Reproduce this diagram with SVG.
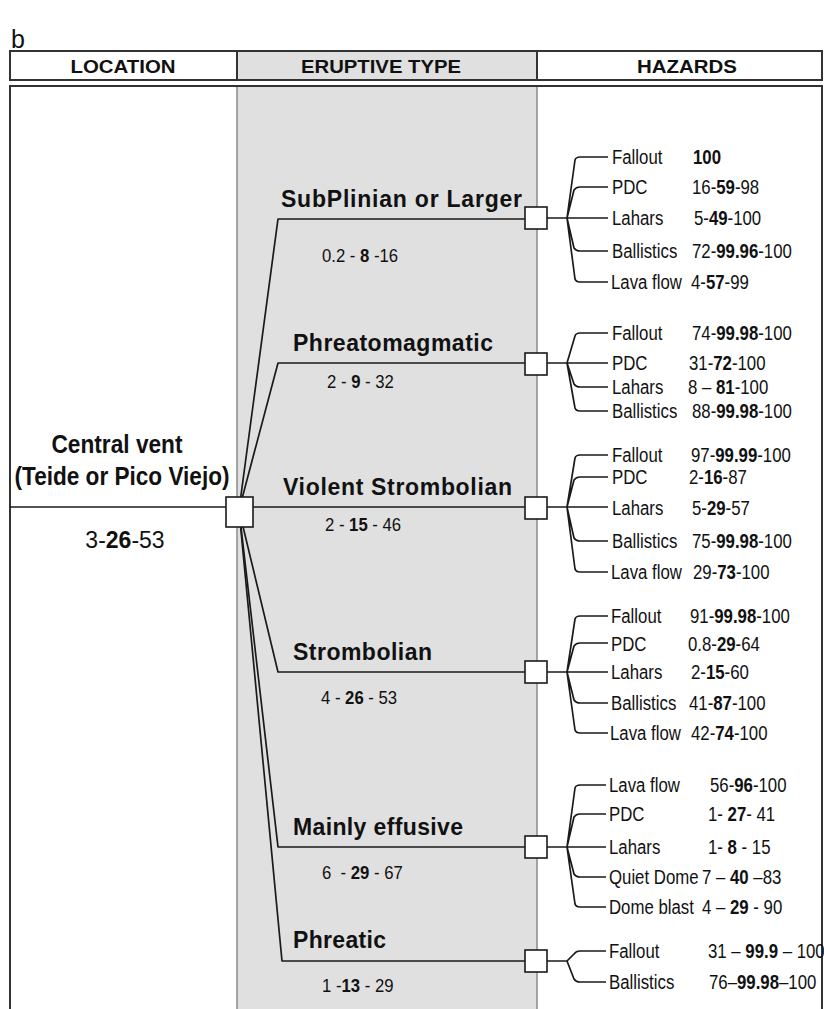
<svg xmlns="http://www.w3.org/2000/svg" width="824" height="1009" viewBox="0 0 824 1009">
<style>
text{font-family:"Liberation Sans",Arial,sans-serif;fill:#111}
.hd{font-size:19px;font-weight:bold;text-anchor:middle}
.cv{font-size:25px;font-weight:bold;text-anchor:middle}
.et{font-size:23px;font-weight:bold}
.en{font-size:19px;transform-box:fill-box;transform-origin:0 50%;transform:scaleX(0.88);white-space:pre}
.hz{font-size:21px;transform-box:fill-box;transform-origin:0 50%;transform:scaleX(0.8);white-space:pre}
.b{font-weight:bold}
.ln{fill:none;stroke:#1a1a1a;stroke-width:1.7;stroke-linejoin:round}
.bx{fill:#fff;stroke:#1a1a1a;stroke-width:1.6}
.frame{fill:none;stroke:#333;stroke-width:2}
.gray{fill:#e0e0e0;stroke:#8a8a8a;stroke-width:1.5}
</style>
<rect width="824" height="1009" fill="#fff"/>
<text x="11" y="48" style="font-size:25px">b</text>
<g id="table">
<rect class="gray" x="237" y="51" width="300" height="29"/>
<rect class="frame" x="10" y="51" width="812" height="29"/>
<line class="frame" x1="237" y1="51" x2="237" y2="80"/>
<line class="frame" x1="537" y1="51" x2="537" y2="80"/>
<rect class="gray" x="237" y="86" width="300" height="940"/>
<rect class="frame" x="10" y="86" width="812" height="940"/>
<text class="hd" x="123" y="73" textLength="105" lengthAdjust="spacingAndGlyphs">LOCATION</text>
<text class="hd" x="381" y="73" textLength="160" lengthAdjust="spacingAndGlyphs">ERUPTIVE TYPE</text>
<text class="hd" x="687" y="73" textLength="100" lengthAdjust="spacingAndGlyphs">HAZARDS</text>
</g>
<g id="connectors">
<path class="ln" d="M10,507 H525"/>
<path class="ln" d="M239,510 L278,219 H525"/>
<path class="ln" d="M239,510 L278,363 H525"/>
<path class="ln" d="M239,510 L278,672 H525"/>
<path class="ln" d="M239,510 L278,847 H525"/>
<path class="ln" d="M239,510 L282,961 H525"/>
<path class="ln" d="M547,218 H567 M567,218 L575,160 Q576,157 580,157 H608 M567,218 L574,190 Q576,187 580,187 H608 M567,218 H608 M567,218 L574,248 Q576,251 580,251 H608 M567,218 L575,279 Q576,282 580,282 H608"/>
<path class="ln" d="M547,363 H608 M567,363 L575,336 Q576,333 580,333 H608 M567,363 L574,384 Q576,387 580,387 H608 M567,363 L575,408 Q576,411 580,411 H608"/>
<path class="ln" d="M547,507 H608 M567,507 L575,458 Q576,455 580,455 H608 M567,507 L574,480 Q576,477 580,477 H608 M567,507 L574,538 Q576,541 580,541 H608 M567,507 L575,569 Q576,572 580,572 H608"/>
<path class="ln" d="M547,672 H608 M567,672 L575,619 Q576,616 580,616 H608 M567,672 L574,646 Q576,643 580,643 H608 M567,672 L574,700 Q576,703 580,703 H608 M567,672 L575,730 Q576,733 580,733 H608"/>
<path class="ln" d="M547,847 H606 M567,847 L575,788 Q576,785 580,785 H606 M567,847 L574,817 Q576,814 580,814 H606 M567,847 L574,874 Q576,877 580,877 H606 M567,847 L575,904 Q576,907 580,907 H606"/>
<path class="ln" d="M547,961 H567 L574,954 Q576,951 580,951 H606 M567,961 L574,979 Q576,982 580,982 H606"/>
</g>
<g id="central-vent">
<rect class="bx" x="226" y="497" width="27" height="30"/>
<text class="cv" x="117" y="453" textLength="131" lengthAdjust="spacingAndGlyphs">Central vent</text>
<text class="cv" x="122" y="485" textLength="215" lengthAdjust="spacingAndGlyphs">(Teide or Pico Viejo)</text>
<text x="125" y="548" style="font-size:23px;text-anchor:middle">3-<tspan class="b">26</tspan>-53</text>
</g>
<g id="subplinian">
<rect class="bx" x="525" y="207" width="22" height="22"/>
<text class="et" x="281" y="207" textLength="241">SubPlinian or Larger</text>
<text class="en" x="322" y="262">0.2 - <tspan class="b">8</tspan> -16</text>
<text class="hz" x="612" y="164">Fallout</text><text class="hz" x="693" y="164"><tspan class="b">100</tspan></text>
<text class="hz" x="612" y="194">PDC</text><text class="hz" x="692" y="194">16-<tspan class="b">59</tspan>-98</text>
<text class="hz" x="612" y="225">Lahars</text><text class="hz" x="694" y="225">5-<tspan class="b">49</tspan>-100</text>
<text class="hz" x="612" y="258">Ballistics</text><text class="hz" x="692" y="258">72-<tspan class="b">99.96</tspan>-100</text>
<text class="hz" x="611" y="289">Lava flow</text><text class="hz" x="691" y="289">4-<tspan class="b">57</tspan>-99</text>
</g>
<g id="phreatomagmatic">
<rect class="bx" x="525" y="353" width="22" height="22"/>
<text class="et" x="293" y="351" textLength="200">Phreatomagmatic</text>
<text class="en" x="327" y="388">2 - <tspan class="b">9</tspan> - 32</text>
<text class="hz" x="612" y="340">Fallout</text><text class="hz" x="692" y="340">74-<tspan class="b">99.98</tspan>-100</text>
<text class="hz" x="612" y="370">PDC</text><text class="hz" x="689" y="370">31-<tspan class="b">72</tspan>-100</text>
<text class="hz" x="612" y="394">Lahars</text><text class="hz" x="688" y="394">8 – <tspan class="b">81</tspan>-100</text>
<text class="hz" x="612" y="418">Ballistics</text><text class="hz" x="692" y="418">88-<tspan class="b">99.98</tspan>-100</text>
</g>
<g id="violent-strombolian">
<rect class="bx" x="525" y="497" width="22" height="22"/>
<text class="et" x="283" y="495" textLength="229">Violent Strombolian</text>
<text class="en" x="325" y="531">2 - <tspan class="b">15</tspan> - 46</text>
<text class="hz" x="612" y="462">Fallout</text><text class="hz" x="691" y="462">97-<tspan class="b">99.99</tspan>-100</text>
<text class="hz" x="612" y="484">PDC</text><text class="hz" x="689" y="484">2-<tspan class="b">16</tspan>-87</text>
<text class="hz" x="612" y="515">Lahars</text><text class="hz" x="692" y="515">5-<tspan class="b">29</tspan>-57</text>
<text class="hz" x="612" y="548">Ballistics</text><text class="hz" x="692" y="548">75-<tspan class="b">99.98</tspan>-100</text>
<text class="hz" x="611" y="579">Lava flow</text><text class="hz" x="693" y="579">29-<tspan class="b">73</tspan>-100</text>
</g>
<g id="strombolian">
<rect class="bx" x="525" y="661" width="22" height="22"/>
<text class="et" x="293" y="660" textLength="139">Strombolian</text>
<text class="en" x="321" y="704">4 - <tspan class="b">26</tspan> - 53</text>
<text class="hz" x="611" y="623">Fallout</text><text class="hz" x="690" y="623">91-<tspan class="b">99.98</tspan>-100</text>
<text class="hz" x="611" y="651">PDC</text><text class="hz" x="688" y="651">0.8-<tspan class="b">29</tspan>-64</text>
<text class="hz" x="611" y="679">Lahars</text><text class="hz" x="691" y="679">2-<tspan class="b">15</tspan>-60</text>
<text class="hz" x="611" y="710">Ballistics</text><text class="hz" x="689" y="710">41-<tspan class="b">87</tspan>-100</text>
<text class="hz" x="610" y="740">Lava flow</text><text class="hz" x="691" y="740">42-<tspan class="b">74</tspan>-100</text>
</g>
<g id="mainly-effusive">
<rect class="bx" x="525" y="836" width="22" height="22"/>
<text class="et" x="293" y="835" textLength="170">Mainly effusive</text>
<text class="en" x="322" y="879">6  - <tspan class="b">29</tspan> - 67</text>
<text class="hz" x="609" y="792">Lava flow</text><text class="hz" x="710" y="792">56-<tspan class="b">96</tspan>-100</text>
<text class="hz" x="609" y="821">PDC</text><text class="hz" x="708" y="821">1- <tspan class="b">27</tspan>- 41</text>
<text class="hz" x="609" y="854">Lahars</text><text class="hz" x="708" y="854">1- <tspan class="b">8</tspan> - 15</text>
<text class="hz" x="609" y="884">Quiet Dome</text><text class="hz" x="702" y="884">7 – <tspan class="b">40</tspan> –83</text>
<text class="hz" x="609" y="914">Dome blast</text><text class="hz" x="702" y="914">4 – <tspan class="b">29</tspan> - 90</text>
</g>
<g id="phreatic">
<rect class="bx" x="525" y="950" width="22" height="22"/>
<text class="et" x="293" y="948" textLength="93">Phreatic</text>
<text class="en" x="322" y="992">1 -<tspan class="b">13</tspan> - 29</text>
<text class="hz" x="609" y="958">Fallout</text><text class="hz" x="708" y="958">31 – <tspan class="b">99.9</tspan> – 100</text>
<text class="hz" x="609" y="989">Ballistics</text><text class="hz" x="709" y="989">76–<tspan class="b">99.98</tspan>–100</text>
</g>
</svg>
